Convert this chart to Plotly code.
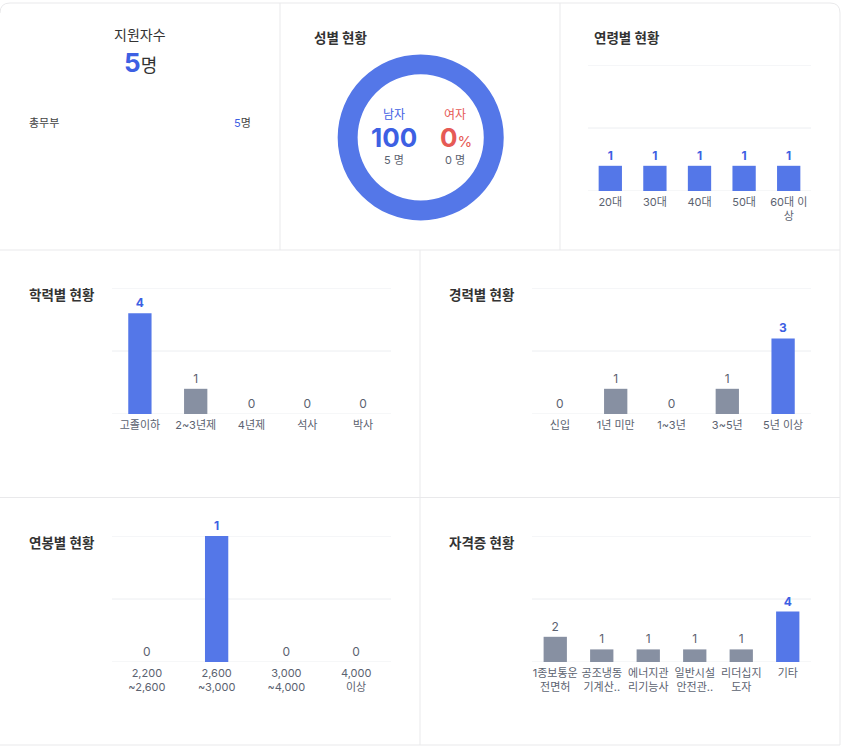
import plotly.graph_objects as go

W, H = 850, 750

# ---------------- data ----------------
applicants_total = 5
dept_names = ["총무부"]
dept_counts = [5]

gender_labels = ["남자", "여자"]
gender_counts = [5, 0]

age_cats = ["20대", "30대", "40대", "50대", "60대 이<br>상"]
age_vals = [1, 1, 1, 1, 1]

edu_cats = ["고졸이하", "2~3년제", "4년제", "석사", "박사"]
edu_vals = [4, 1, 0, 0, 0]

career_cats = ["신입", "1년 미만", "1~3년", "3~5년", "5년 이상"]
career_vals = [0, 1, 0, 1, 3]

salary_cats = ["2,200<br>~2,600", "2,600<br>~3,000", "3,000<br>~4,000", "4,000<br>이상"]
salary_vals = [0, 1, 0, 0]

cert_cats = ["1종보통운<br>전면허", "공조냉동<br>기계산..", "에너지관<br>리기능사",
             "일반시설<br>안전관..", "리더십지<br>도자", "기타"]
cert_vals = [2, 1, 1, 1, 1, 4]

# ---------------- style ----------------
FONT = "Inter, 'Noto Sans CJK KR', sans-serif"
BLUE_BAR = "#5477e8"
GREY_BAR = "#8790a2"
BLUE_TXT = "#3d60e3"
RED = "#e65a55"
DARK = "#333333"
TICK = "#5b6270"
GRID = "#eceef1"
BORDER = "#e9e9eb"
BAR_PX = 23.3


def px(x):
    return x / W


def py(y):
    return 1 - y / H


fig = go.Figure()
shapes = []

panels = [
    ("", age_cats, age_vals, (588, 811), (65, 191)),
    ("2", edu_cats, edu_vals, (112, 391), (288, 414)),
    ("3", career_cats, career_vals, (532, 811), (288, 414)),
    ("4", salary_cats, salary_vals, (112, 391), (536, 662)),
    ("5", cert_cats, cert_vals, (532, 811), (536, 662)),
]

layout_axes = {}
for sfx, cats, vals, (x0, x1), (y0, y1) in panels:
    vmax = max(vals)
    ymax = sum(vals)
    hl = [v == vmax for v in vals]
    colors = [BLUE_BAR if h else GREY_BAR for h in hl]
    tcolors = [BLUE_TXT if h else TICK for h in hl]
    texts = [f"<b>{v}</b>" if h else f"{v}" for v, h in zip(vals, hl)]
    width = BAR_PX / ((x1 - x0) / len(cats))
    fig.add_trace(go.Bar(
        x=cats, y=vals, xaxis="x" + sfx, yaxis="y" + sfx,
        marker=dict(color=colors, line=dict(width=0)),
        width=width,
        text=texts, textposition="outside", cliponaxis=False,
        textfont=dict(color=tcolors, size=12, family=FONT),
        hoverinfo="skip", showlegend=False,
    ))
    layout_axes["xaxis" + sfx] = dict(
        domain=[px(x0), px(x1)], anchor="y" + sfx, type="category",
        showgrid=False, zeroline=False, showline=False, ticks="",
        tickangle=0, ticklabelstandoff=3,
        tickfont=dict(size=11, color=TICK, family=FONT),
        fixedrange=True,
    )
    layout_axes["yaxis" + sfx] = dict(
        domain=[py(y1), py(y0)], anchor="x" + sfx, range=[0, ymax],
        showticklabels=False, showgrid=False, zeroline=False,
        showline=False, fixedrange=True,
    )
    # horizontal grid lines at 0, half and full scale
    for gv in [0, ymax / 2, ymax]:
        shapes.append(dict(type="line", xref=f"x{sfx} domain", yref=f"y{sfx}",
                           x0=0, x1=1, y0=gv, y1=gv,
                           line=dict(color=GRID, width=1), layer="below"))

# donut
cx, cy, r = 420.7, 137.4, 83
fig.add_trace(go.Pie(
    labels=gender_labels, values=gender_counts, hole=0.76,
    marker=dict(colors=[BLUE_BAR, RED], line=dict(width=0)),
    textinfo="none", hoverinfo="skip", sort=False, showlegend=False,
    domain=dict(x=[px(cx - r), px(cx + r)], y=[py(cy + r), py(cy - r)]),
))

total_g = sum(gender_counts)
pcts = [round(100 * c / total_g) if total_g else 0 for c in gender_counts]

ann = []


def text(x, y, s, size=12, color=DARK, anchor="center"):
    ann.append(dict(x=px(x), y=py(y), xref="paper", yref="paper", text=s,
                    showarrow=False, xanchor=anchor, yanchor="middle",
                    borderpad=0,
                    font=dict(size=size, color=color, family=FONT)))


# donut centre texts
text(394, 114, gender_labels[0], 12, BLUE_TXT)
text(394, 137.5, f"<b>{pcts[0]}</b>", 26, BLUE_TXT)
text(394, 160, f"{gender_counts[0]} 명", 11, TICK)
text(455, 114, gender_labels[1], 12, RED)
text(456, 137.5, f"<b>{pcts[1]}</b><span style='font-size:15px'>%</span>", 26, RED)
text(455, 160, f"{gender_counts[1]} 명", 11, TICK)

# top-left summary
text(140, 34, "지원자수", 14, DARK)
text(140, 62, f"<span style='color:{BLUE_TXT}; font-size:26px'><b>{applicants_total}</b></span>"
              f"<span style='font-size:18px'>명</span>", 18, DARK)
for i, (dn, dc) in enumerate(zip(dept_names, dept_counts)):
    text(28, 123 + i * 24, dn, 11, "#444444", "left")
    text(252, 123 + i * 24, f"<span style='color:{BLUE_TXT}'>{dc}</span>명", 11, "#444444", "right")

# panel titles
titles = [("성별 현황", 313, 38), ("연령별 현황", 593, 38),
          ("학력별 현황", 28, 295), ("경력별 현황", 448, 295),
          ("연봉별 현황", 28, 543), ("자격증 현황", 448, 543)]
for t, x, y in titles:
    text(x, y, f"<b>{t}</b>", 13.5, DARK, "left")


# panel borders
def line(x0, y0, x1, y1):
    shapes.append(dict(type="line", xref="paper", yref="paper",
                       x0=px(x0), y0=py(y0), x1=px(x1), y1=py(y1),
                       line=dict(color=BORDER, width=1), layer="below"))


outer = (f"M {px(0)},{py(13)} Q {px(0)},{py(3)} {px(10)},{py(3)} "
         f"L {px(830)},{py(3)} Q {px(840)},{py(3)} {px(840)},{py(13)} "
         f"L {px(840)},{py(745)}")
shapes.append(dict(type="path", xref="paper", yref="paper", path=outer,
                   line=dict(color=BORDER, width=1), layer="below"))
line(0, 745, 840, 745)
line(280, 3, 280, 250)
line(560, 3, 560, 250)
line(0, 250, 840, 250)
line(420, 250, 420, 745)
line(0, 497.5, 840, 497.5)

fig.update_layout(
    width=W, height=H, margin=dict(l=0, r=0, t=0, b=0),
    paper_bgcolor="white", plot_bgcolor="rgba(0,0,0,0)",
    font=dict(family=FONT, color=DARK), bargap=0.5,
    annotations=ann, shapes=shapes, **layout_axes,
)

fig.write_html("out.html", config=dict(displayModeBar=False))
